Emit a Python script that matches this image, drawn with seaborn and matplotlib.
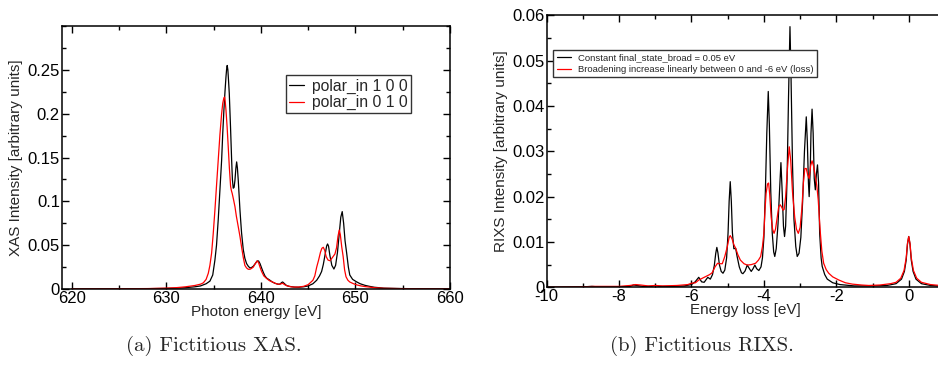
import numpy as np
import pandas as pd
import matplotlib
matplotlib.use("Agg")
import matplotlib.pyplot as plt
from matplotlib.ticker import MultipleLocator, FuncFormatter
import seaborn as sns

# ---------------- data ----------------
xas_e_x = [620, 625, 628, 630, 631, 632, 633, 633.6, 634.2, 634.6, 634.9, 635.13, 635.3, 635.48,
           635.66, 635.84, 635.96, 636.08, 636.2, 636.3, 636.37, 636.43, 636.5, 636.57, 636.65,
           636.78, 636.9, 636.98, 637.07, 637.16, 637.25, 637.35, 637.43, 637.51, 637.6, 637.69,
           637.78, 637.87, 637.95, 638.13, 638.3, 638.48, 638.66, 638.84, 639.0, 639.19, 639.4,
           639.6, 639.75, 639.9, 640.07, 640.25, 640.42, 640.6, 640.95, 641.2, 641.5, 641.8, 642.0,
           642.2, 642.3, 642.45, 642.7, 643.0, 643.5, 644.0, 644.5, 645.0, 645.5, 645.9, 646.2,
           646.42, 646.6, 646.8, 646.95, 647.05, 647.15, 647.3, 647.5, 647.72, 647.9, 648.1, 648.3,
           648.45, 648.6, 648.75, 648.9, 649.07, 649.25, 649.4, 649.7, 650.1, 650.5, 651.0, 651.5,
           652, 653, 655, 658, 660]
xas_100 = [0.0001, 0.0002, 0.0004, 0.0007, 0.001, 0.0015, 0.0025, 0.0035, 0.006, 0.009, 0.016, 0.033,
           0.05, 0.079, 0.113, 0.147, 0.178, 0.204, 0.226, 0.242, 0.251, 0.255, 0.250, 0.238, 0.223,
           0.185, 0.147, 0.125, 0.115, 0.116, 0.124, 0.138, 0.145, 0.138, 0.124, 0.107, 0.090, 0.076,
           0.064, 0.045, 0.035, 0.029, 0.026, 0.024, 0.0245, 0.026, 0.029, 0.032, 0.032, 0.029, 0.024,
           0.019, 0.015, 0.0125, 0.010, 0.008, 0.0065, 0.0055, 0.0055, 0.0075, 0.008, 0.0065, 0.004,
           0.003, 0.0022, 0.002, 0.0025, 0.0035, 0.006, 0.010, 0.015, 0.020, 0.028, 0.040, 0.049,
           0.0514, 0.049, 0.038, 0.027, 0.0228, 0.027, 0.042, 0.065, 0.082, 0.0883, 0.075, 0.055,
           0.041, 0.025, 0.016, 0.011, 0.0083, 0.006, 0.0042, 0.003, 0.002, 0.001, 0.0005, 0.0002,
           0.0001]

xas_r_x = [620, 625, 628, 630, 631, 632, 633, 633.6, 633.9, 634.2, 634.43, 634.6, 634.78, 634.95,
           635.13, 635.3, 635.48, 635.66, 635.84, 635.96, 636.08, 636.15, 636.22, 636.3, 636.42,
           636.54, 636.66, 636.79, 636.88, 636.96, 637.1, 637.25, 637.4, 637.6, 637.78, 637.95,
           638.13, 638.3, 638.48, 638.66, 638.84, 639.0, 639.19, 639.4, 639.6, 639.75, 639.9, 640.07,
           640.3, 640.6, 640.9, 641.13, 641.5, 641.8, 642.0, 642.3, 642.5, 642.8, 643.2, 643.6, 644.0,
           644.5, 645.0, 645.3, 645.5, 645.7, 645.9, 646.1, 646.3, 646.45, 646.6, 646.75, 646.9,
           647.1, 647.3, 647.5, 647.7, 647.83, 648.0, 648.15, 648.29, 648.4, 648.55, 648.7, 648.85,
           649.0, 649.2, 649.4, 649.8, 650.2, 650.6, 651, 652, 653, 655, 658, 660]
xas_010 = [0.0001, 0.0003, 0.0005, 0.001, 0.0015, 0.0025, 0.004, 0.0055, 0.007, 0.011, 0.018, 0.027,
           0.041, 0.063, 0.090, 0.118, 0.147, 0.176, 0.200, 0.212, 0.218, 0.219, 0.214, 0.204, 0.185,
           0.162, 0.138, 0.117, 0.112, 0.109, 0.102, 0.094, 0.083, 0.071, 0.060, 0.048, 0.036, 0.027,
           0.024, 0.0225, 0.0225, 0.0235, 0.025, 0.029, 0.032, 0.030, 0.025, 0.020, 0.015, 0.012,
           0.0095, 0.0085, 0.0065, 0.0055, 0.0055, 0.0065, 0.005, 0.0035, 0.0025, 0.0022, 0.0023,
           0.003, 0.005, 0.008, 0.010, 0.015, 0.025, 0.033, 0.042, 0.0465, 0.0476, 0.044, 0.037,
           0.033, 0.0323, 0.035, 0.038, 0.040, 0.047, 0.060, 0.0674, 0.062, 0.048, 0.037, 0.022,
           0.014, 0.010, 0.008, 0.006, 0.0045, 0.0035, 0.0028, 0.0015, 0.0008, 0.0004, 0.0002, 0.0001]

rixs_k_x = [-10, -9, -8.75, -8.6, -8, -7.7, -7.6, -7.5, -7.35, -7.1, -7.0, -6.9, -6.5, -6.2, -6.0,
            -5.9, -5.8, -5.72, -5.65, -5.55, -5.48, -5.42, -5.37, -5.33, -5.30, -5.27, -5.23, -5.18,
            -5.13, -5.08, -5.03, -4.99, -4.96, -4.93, -4.90, -4.87, -4.83, -4.78, -4.74, -4.68, -4.62,
            -4.58, -4.52, -4.46, -4.40, -4.35, -4.30, -4.25, -4.20, -4.14, -4.08, -4.04, -4.0, -3.96,
            -3.92, -3.88, -3.85, -3.81, -3.77, -3.73, -3.70, -3.66, -3.61, -3.57, -3.53, -3.50, -3.46,
            -3.43, -3.40, -3.36, -3.32, -3.28, -3.25, -3.21, -3.17, -3.12, -3.08, -3.03, -2.98, -2.93,
            -2.88, -2.83, -2.80, -2.77, -2.75, -2.72, -2.70, -2.67, -2.64, -2.61, -2.58, -2.55, -2.52,
            -2.49, -2.46, -2.42, -2.39, -2.32, -2.25, -2.1, -1.9, -1.5, -1.0, -0.6, -0.35, -0.2, -0.12,
            -0.07, -0.035, 0.0, 0.035, 0.07, 0.12, 0.2, 0.35, 0.6, 1.0]
rixs_const = [0.0, 0.0001, 0.0002, 0.0001, 0.0001, 0.0002, 0.0005, 0.0004, 0.0002, 0.0002, 0.0004,
              0.0002, 0.0002, 0.0003, 0.0006, 0.0012, 0.0022, 0.0012, 0.0011, 0.0022, 0.0018, 0.0028,
              0.0048, 0.0075, 0.0088, 0.0076, 0.005, 0.0035, 0.0031, 0.0038, 0.0065, 0.012, 0.019,
              0.0233, 0.019, 0.012, 0.0085, 0.0086, 0.0068, 0.0045, 0.0032, 0.003, 0.0036, 0.0049,
              0.0041, 0.0035, 0.0041, 0.0049, 0.0041, 0.0037, 0.0045, 0.0065, 0.011, 0.021, 0.034,
              0.0432, 0.036, 0.021, 0.012, 0.0078, 0.0068, 0.0085, 0.014, 0.021, 0.0275, 0.022, 0.0135,
              0.0112, 0.0135, 0.024, 0.042, 0.0575, 0.046, 0.027, 0.015, 0.009, 0.0068, 0.0075, 0.011,
              0.019, 0.030, 0.0376, 0.032, 0.023, 0.020, 0.026, 0.034, 0.0393, 0.034, 0.024, 0.0215,
              0.025, 0.027, 0.023, 0.0119, 0.0065, 0.0046, 0.0028, 0.0018, 0.001, 0.0006, 0.0003,
              0.0003, 0.0004, 0.0008, 0.0018, 0.0035, 0.006, 0.0095, 0.0112, 0.0095, 0.006, 0.0035,
              0.0018, 0.0008, 0.0004, 0.0002]

rixs_r_x = [-10, -9, -8.7, -8, -7.7, -7.55, -7.4, -7.2, -7.0, -6.8, -6.4, -6.1, -6.0, -5.89, -5.8,
            -5.7, -5.6, -5.5, -5.43, -5.35, -5.28, -5.22, -5.15, -5.08, -5.01, -4.96, -4.93, -4.88,
            -4.83, -4.78, -4.72, -4.65, -4.55, -4.46, -4.35, -4.23, -4.15, -4.09, -4.04, -4.0, -3.97,
            -3.94, -3.90, -3.87, -3.84, -3.80, -3.76, -3.72, -3.68, -3.64, -3.59, -3.55, -3.51, -3.47,
            -3.44, -3.40, -3.35, -3.30, -3.26, -3.21, -3.15, -3.10, -3.05, -3.0, -2.95, -2.91, -2.87,
            -2.83, -2.79, -2.75, -2.71, -2.67, -2.63, -2.58, -2.54, -2.50, -2.47, -2.44, -2.40, -2.35,
            -2.28, -2.21, -2.1, -1.93, -1.75, -1.56, -1.3, -1.1, -0.8, -0.5, -0.35, -0.22, -0.13,
            -0.07, -0.035, 0.0, 0.035, 0.07, 0.13, 0.22, 0.35, 0.6, 1.0]
rixs_linear = [0.0, 0.0001, 0.0002, 0.0002, 0.0004, 0.0006, 0.0005, 0.0003, 0.0004, 0.0003, 0.0004,
               0.0006, 0.0009, 0.001, 0.0016, 0.002, 0.0024, 0.0028, 0.0032, 0.0045, 0.0053, 0.0052,
               0.0052, 0.0068, 0.009, 0.011, 0.0114, 0.0107, 0.0094, 0.0086, 0.0072, 0.006, 0.0052,
               0.0049, 0.005, 0.0053, 0.006, 0.0068, 0.009, 0.012, 0.017, 0.0207, 0.0228, 0.023,
               0.0205, 0.0155, 0.0128, 0.0119, 0.0128, 0.015, 0.0178, 0.0182, 0.0177, 0.017, 0.0172,
               0.020, 0.0262, 0.031, 0.028, 0.021, 0.0155, 0.0128, 0.0119, 0.0132, 0.0175, 0.023,
               0.0262, 0.0262, 0.0248, 0.024, 0.0268, 0.0279, 0.0268, 0.0245, 0.0225, 0.0193, 0.0155,
               0.0119, 0.008, 0.0053, 0.0039, 0.0031, 0.0023, 0.0016, 0.001, 0.0007, 0.0005, 0.0004,
               0.0005, 0.0008, 0.0011, 0.002, 0.0037, 0.0065, 0.0097, 0.0112, 0.0097, 0.0065, 0.0037,
               0.002, 0.0011, 0.0006, 0.0003]

xas_labels = ["polar_in 1 0 0", "polar_in 0 1 0"]
rixs_labels = ["Constant final_state_broad = 0.05 eV",
               "Broadening increase linearly between 0 and -6 eV (loss)"]
captions = ["(a) Fictitious XAS.", "(b) Fictitious RIXS."]

# ---------------- style ----------------
sns.set_theme(style="ticks")
plt.rcParams["font.family"] = ["Liberation Sans", "DejaVu Sans"]
plt.rcParams["axes.unicode_minus"] = False

fig = plt.figure(figsize=(9.38, 3.67), dpi=100)
ax1 = fig.add_axes([0.0661, 0.2125, 0.4136, 0.7166])
ax2 = fig.add_axes([0.5828, 0.2172, 0.4246, 0.7411])

df1k = pd.DataFrame({"x": xas_e_x, "y": xas_100})
df1r = pd.DataFrame({"x": xas_r_x, "y": xas_010})
df2k = pd.DataFrame({"x": rixs_k_x, "y": rixs_const})
df2r = pd.DataFrame({"x": rixs_r_x, "y": rixs_linear})

lw = 0.9
sns.lineplot(data=df1k, x="x", y="y", ax=ax1, color="black", lw=lw, label=xas_labels[0],
             estimator=None, sort=False)
sns.lineplot(data=df1r, x="x", y="y", ax=ax1, color="#ff0000", lw=lw, label=xas_labels[1],
             estimator=None, sort=False)
sns.lineplot(data=df2k, x="x", y="y", ax=ax2, color="black", lw=lw, label=rixs_labels[0],
             estimator=None, sort=False)
sns.lineplot(data=df2r, x="x", y="y", ax=ax2, color="#ff0000", lw=lw, label=rixs_labels[1],
             estimator=None, sort=False)

fmt = FuncFormatter(lambda v, p: "%g" % round(v, 6))

for ax in (ax1, ax2):
    for s in ax.spines.values():
        s.set_linewidth(1.1)
        s.set_color("black")
    ax.tick_params(which="both", direction="in", top=True, right=True, labelsize=12,
                   colors="black", pad=1.5)
    ax.tick_params(which="major", length=5, width=1)
    ax.tick_params(which="minor", length=3, width=1)
    ax.xaxis.set_major_formatter(fmt)
    ax.yaxis.set_major_formatter(fmt)

ax1.set_xlim(618.95, 660)
ax1.set_ylim(0, 0.3)
ax1.set_xticks([620, 630, 640, 650, 660])
ax1.xaxis.set_minor_locator(MultipleLocator(5))
ax1.set_yticks([0, 0.05, 0.1, 0.15, 0.2, 0.25])
ax1.yaxis.set_minor_locator(MultipleLocator(0.025))
ax1.set_xlabel("Photon energy [eV]", fontsize=11, labelpad=-1)
ax1.set_ylabel("XAS Intensity [arbitrary units]", fontsize=11, labelpad=3)

ax2.set_xlim(-10, 1)
ax2.set_ylim(0, 0.06)
ax2.set_xticks([-10, -8, -6, -4, -2, 0])
ax2.xaxis.set_minor_locator(MultipleLocator(1))
ax2.set_yticks([0, 0.01, 0.02, 0.03, 0.04, 0.05, 0.06])
ax2.yaxis.set_minor_locator(MultipleLocator(0.005))
ax2.set_xlabel("Energy loss [eV]", fontsize=11, labelpad=-1)
ax2.set_ylabel("RIXS Intensity [arbitrary units]", fontsize=11, labelpad=3)

leg1 = ax1.legend(loc="upper left", bbox_to_anchor=(0.5765, 0.8125), fontsize=11.3,
                  frameon=True, fancybox=False, framealpha=1, edgecolor="#333333",
                  handlelength=1.0, handletextpad=0.5, borderpad=0.2, labelspacing=0.1,
                  borderaxespad=0)
leg1.get_frame().set_linewidth(1.0)
leg2 = ax2.legend(loc="upper left", bbox_to_anchor=(0.0166, 0.8724), fontsize=6.8,
                  frameon=True, fancybox=False, framealpha=1, edgecolor="#333333",
                  handlelength=1.5, handletextpad=0.8, borderpad=0.35, labelspacing=0.3,
                  borderaxespad=0)
leg2.get_frame().set_linewidth(1.0)

fig.text(0.228, 0.058, captions[0], ha="center", va="center", fontsize=15, family="cmr10")
fig.text(0.748, 0.058, captions[1], ha="center", va="center", fontsize=15, family="cmr10")

fig.savefig("out.png", dpi=100)
